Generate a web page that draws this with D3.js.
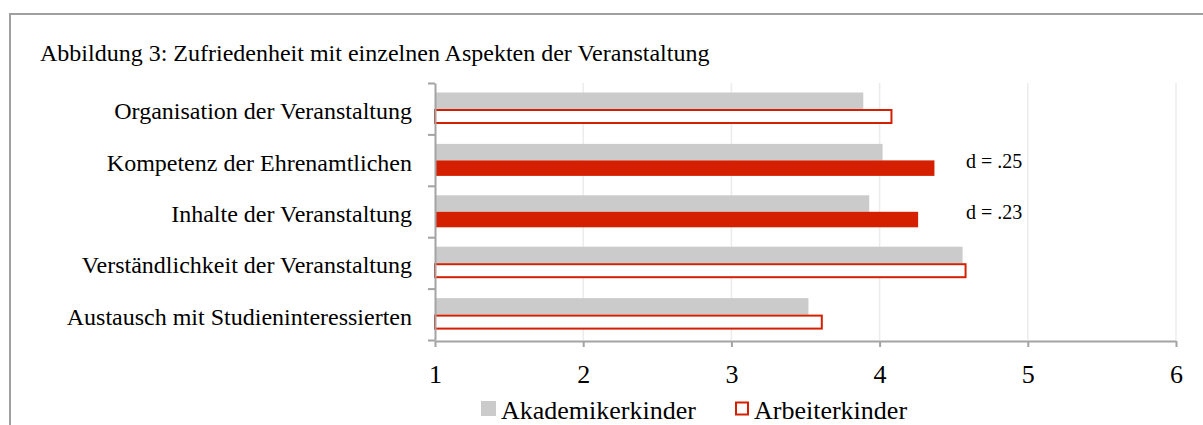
<!DOCTYPE html>
<html>
<head>
<meta charset="utf-8">
<script src="https://cdn.jsdelivr.net/npm/d3@7/dist/d3.min.js"></script>
<style>
  html, body { margin: 0; padding: 0; background: #fff; }
  svg { display: block; }
  text { font-family: "Liberation Serif", "Times New Roman", serif; fill: #000; }
</style>
</head>
<body>
<svg id="chart" width="1203" height="425"></svg>
<script>
// ---- data ----
const title = "Abbildung 3: Zufriedenheit mit einzelnen Aspekten der Veranstaltung";
const categories = [
  "Organisation der Veranstaltung",
  "Kompetenz der Ehrenamtlichen",
  "Inhalte der Veranstaltung",
  "Verständlichkeit der Veranstaltung",
  "Austausch mit Studieninteressierten"
];
const akademikerkinder = [3.89, 4.02, 3.93, 4.56, 3.52];
const arbeiterkinder   = [4.08, 4.37, 4.26, 4.58, 3.61];
const significant      = [false, true, true, false, false];
const effectLabels     = ["", "d = .25", "d = .23", "", ""];
const xTicks = [1, 2, 3, 4, 5, 6];
const seriesNames = ["Akademikerkinder", "Arbeiterkinder"];

// ---- styles ----
const GRAY = "#cbcbcb";
const RED = "#d42000";
const AXIS = "#a3a3a3";
const GRID = "#ececec";

const svg = d3.select("#chart");

// frame
svg.append("line").attr("x1", 9).attr("x2", 1203).attr("y1", 14).attr("y2", 14)
  .attr("stroke", "#a0a0a0").attr("stroke-width", 2);
svg.append("line").attr("x1", 10).attr("x2", 10).attr("y1", 13).attr("y2", 425)
  .attr("stroke", "#a0a0a0").attr("stroke-width", 2);

// title
svg.append("text").attr("x", 40).attr("y", 61).attr("font-size", 24).text(title);

// scales
const x = d3.scaleLinear().domain([1, 6]).range([435, 1176]);
const y = d3.scaleBand().domain(categories).range([83, 340]).padding(0);
const step = y.step();

// gridlines
svg.append("g").selectAll("line").data(xTicks.slice(1)).join("line")
  .attr("x1", d => x(d)).attr("x2", d => x(d))
  .attr("y1", 83).attr("y2", 340)
  .attr("stroke", GRID).attr("stroke-width", 1.5);

// bars: Akademikerkinder
svg.append("g").selectAll("rect").data(categories).join("rect")
  .attr("x", x(1)).attr("y", d => y(d) + 9.5)
  .attr("width", (d, i) => x(akademikerkinder[i]) - x(1))
  .attr("height", 16.5)
  .attr("fill", GRAY);

// bars: Arbeiterkinder
svg.append("g").selectAll("rect").data(categories).join("rect")
  .each(function (d, i) {
    const r = d3.select(this);
    if (significant[i]) {
      r.attr("x", x(1)).attr("y", y(d) + 26)
        .attr("width", x(arbeiterkinder[i]) - x(1))
        .attr("height", 15.5)
        .attr("fill", RED);
    } else {
      r.attr("x", x(1)).attr("y", y(d) + 27)
        .attr("width", x(arbeiterkinder[i]) - x(1))
        .attr("height", 13)
        .attr("fill", "#fff")
        .attr("stroke", RED).attr("stroke-width", 2);
    }
  });

// effect size labels
svg.append("g").selectAll("text").data(categories).join("text")
  .attr("x", 966)
  .attr("y", d => y(d) + 33.5)
  .attr("font-size", 20)
  .text((d, i) => effectLabels[i]);

// y axis (ticks at band boundaries)
const yIdx = d3.scaleLinear().domain([0, categories.length]).range([83, 340]);
const yAxis = svg.append("g").attr("transform", `translate(${x(1)},0)`)
  .call(d3.axisLeft(yIdx).tickValues(d3.range(0, categories.length + 1)).tickSize(7).tickSizeOuter(0).tickFormat(""));
yAxis.selectAll("path, line").attr("stroke", AXIS).attr("stroke-width", 2);

// category labels
svg.append("g").selectAll("text").data(categories).join("text")
  .attr("x", 412)
  .attr("y", d => y(d) + step / 2 + 10.5)
  .attr("text-anchor", "end")
  .attr("font-size", 24)
  .text(d => d);

// x axis
const xAxis = svg.append("g").attr("transform", "translate(0,341)")
  .call(d3.axisBottom(x).tickValues(xTicks).tickSize(6).tickSizeOuter(0).tickFormat(d3.format("d")));
xAxis.selectAll("path, line").attr("stroke", AXIS).attr("stroke-width", 2);
xAxis.selectAll("text")
  .attr("y", 42).attr("dy", null)
  .attr("font-size", 26)
  .attr("font-family", '"Liberation Serif", "Times New Roman", serif')
  .attr("fill", "#000");

// legend
const lg = svg.append("g");
lg.append("rect").attr("x", 481).attr("y", 401).attr("width", 15).attr("height", 15).attr("fill", GRAY);
lg.append("text").attr("x", 501).attr("y", 419).attr("font-size", 26).text(seriesNames[0]);
lg.append("rect").attr("x", 736).attr("y", 402.5).attr("width", 12).attr("height", 12)
  .attr("fill", "#fff").attr("stroke", RED).attr("stroke-width", 2);
lg.append("text").attr("x", 754).attr("y", 419).attr("font-size", 26).text(seriesNames[1]);
</script>
</body>
</html>
